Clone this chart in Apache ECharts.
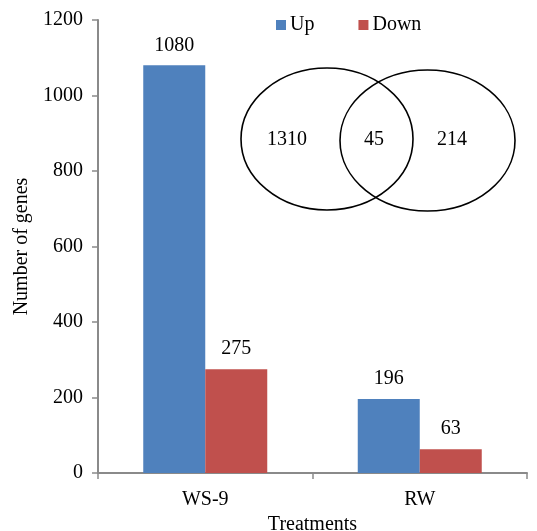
<!DOCTYPE html>
<html>
<head>
<meta charset="utf-8">
<script src="https://cdn.jsdelivr.net/npm/echarts@6/dist/echarts.min.js"></script>
<style>
  html, body { margin: 0; padding: 0; background: #fff; }
  #chart { width: 537px; height: 531px; }
</style>
</head>
<body>
<div id="chart"></div>
<script>
// Differentially expressed gene counts per treatment
const treatments = ['WS-9', 'RW'];
const upCounts = [1080, 196];
const downCounts = [275, 63];
const yTicks = [0, 200, 400, 600, 800, 1000, 1200];

// Venn overlap between the two treatments
const vennCounts = [1310, 45, 214];

const FONT = '"Liberation Serif", "Times New Roman", serif';
const FS = 20;
const AXIS_COLOR = '#8a8a8a';

const chart = echarts.init(document.getElementById('chart'));

const labelStyle = {
  show: true,
  position: 'top',
  distance: 10,
  fontFamily: FONT,
  fontSize: FS,
  color: '#000'
};

const vennText = (x, value) => ({
  type: 'text',
  x: x, y: 140,
  style: { text: String(value), font: FS + 'px ' + FONT, fill: '#000', textAlign: 'center', textVerticalAlign: 'middle' },
  z: 10
});

chart.setOption({
  animation: false,
  backgroundColor: '#fff',
  textStyle: { fontFamily: FONT },
  legend: {
    left: 276,
    top: 15,
    padding: 0,
    itemWidth: 10,
    itemHeight: 10,
    itemGap: 44,
    icon: 'rect',
    textStyle: { fontFamily: FONT, fontSize: FS, color: '#000', padding: [0, 0, 0, -1] },
    data: ['Up', 'Down']
  },
  grid: { left: 98, right: 10, top: 20, bottom: 58, containLabel: false, outerBoundsMode: 'none' },
  xAxis: {
    type: 'category',
    data: treatments,
    name: 'Treatments',
    nameLocation: 'middle',
    nameGap: 40,
    nameTextStyle: { fontFamily: FONT, fontSize: FS, color: '#000' },
    axisLine: { lineStyle: { color: AXIS_COLOR, width: 2 } },
    axisTick: { show: true, alignWithLabel: false, length: 6, lineStyle: { color: AXIS_COLOR, width: 1.5 } },
    axisLabel: { fontFamily: FONT, fontSize: FS, color: '#000', margin: 17 }
  },
  yAxis: {
    type: 'value',
    min: yTicks[0],
    max: yTicks[yTicks.length - 1],
    interval: yTicks[1] - yTicks[0],
    name: 'Number of genes',
    nameLocation: 'middle',
    nameGap: 65,
    nameTextStyle: { fontFamily: FONT, fontSize: FS, color: '#000' },
    axisLine: { show: true, lineStyle: { color: AXIS_COLOR, width: 2 } },
    axisTick: { show: true, length: 6, lineStyle: { color: AXIS_COLOR, width: 1.5 } },
    splitLine: { show: false },
    axisLabel: { fontFamily: FONT, fontSize: FS, color: '#000', margin: 15, formatter: v => String(v) }
  },
  series: [
    {
      name: 'Up',
      type: 'bar',
      data: upCounts,
      barWidth: 62,
      barGap: '0%',
      itemStyle: { color: '#4F81BD' },
      label: labelStyle
    },
    {
      name: 'Down',
      type: 'bar',
      data: downCounts,
      barWidth: 62,
      barGap: '0%',
      itemStyle: { color: '#C0504D' },
      label: labelStyle
    }
  ],
  graphic: [
    {
      type: 'ellipse',
      shape: { cx: 327, cy: 139, rx: 86, ry: 71 },
      style: { fill: 'none', stroke: '#000', lineWidth: 1.6 },
      z: 10
    },
    {
      type: 'ellipse',
      shape: { cx: 427.5, cy: 140.5, rx: 87.5, ry: 70.5 },
      style: { fill: 'none', stroke: '#000', lineWidth: 1.6 },
      z: 10
    },
    vennText(287, vennCounts[0]),
    vennText(374, vennCounts[1]),
    vennText(452, vennCounts[2])
  ]
});
</script>
</body>
</html>
